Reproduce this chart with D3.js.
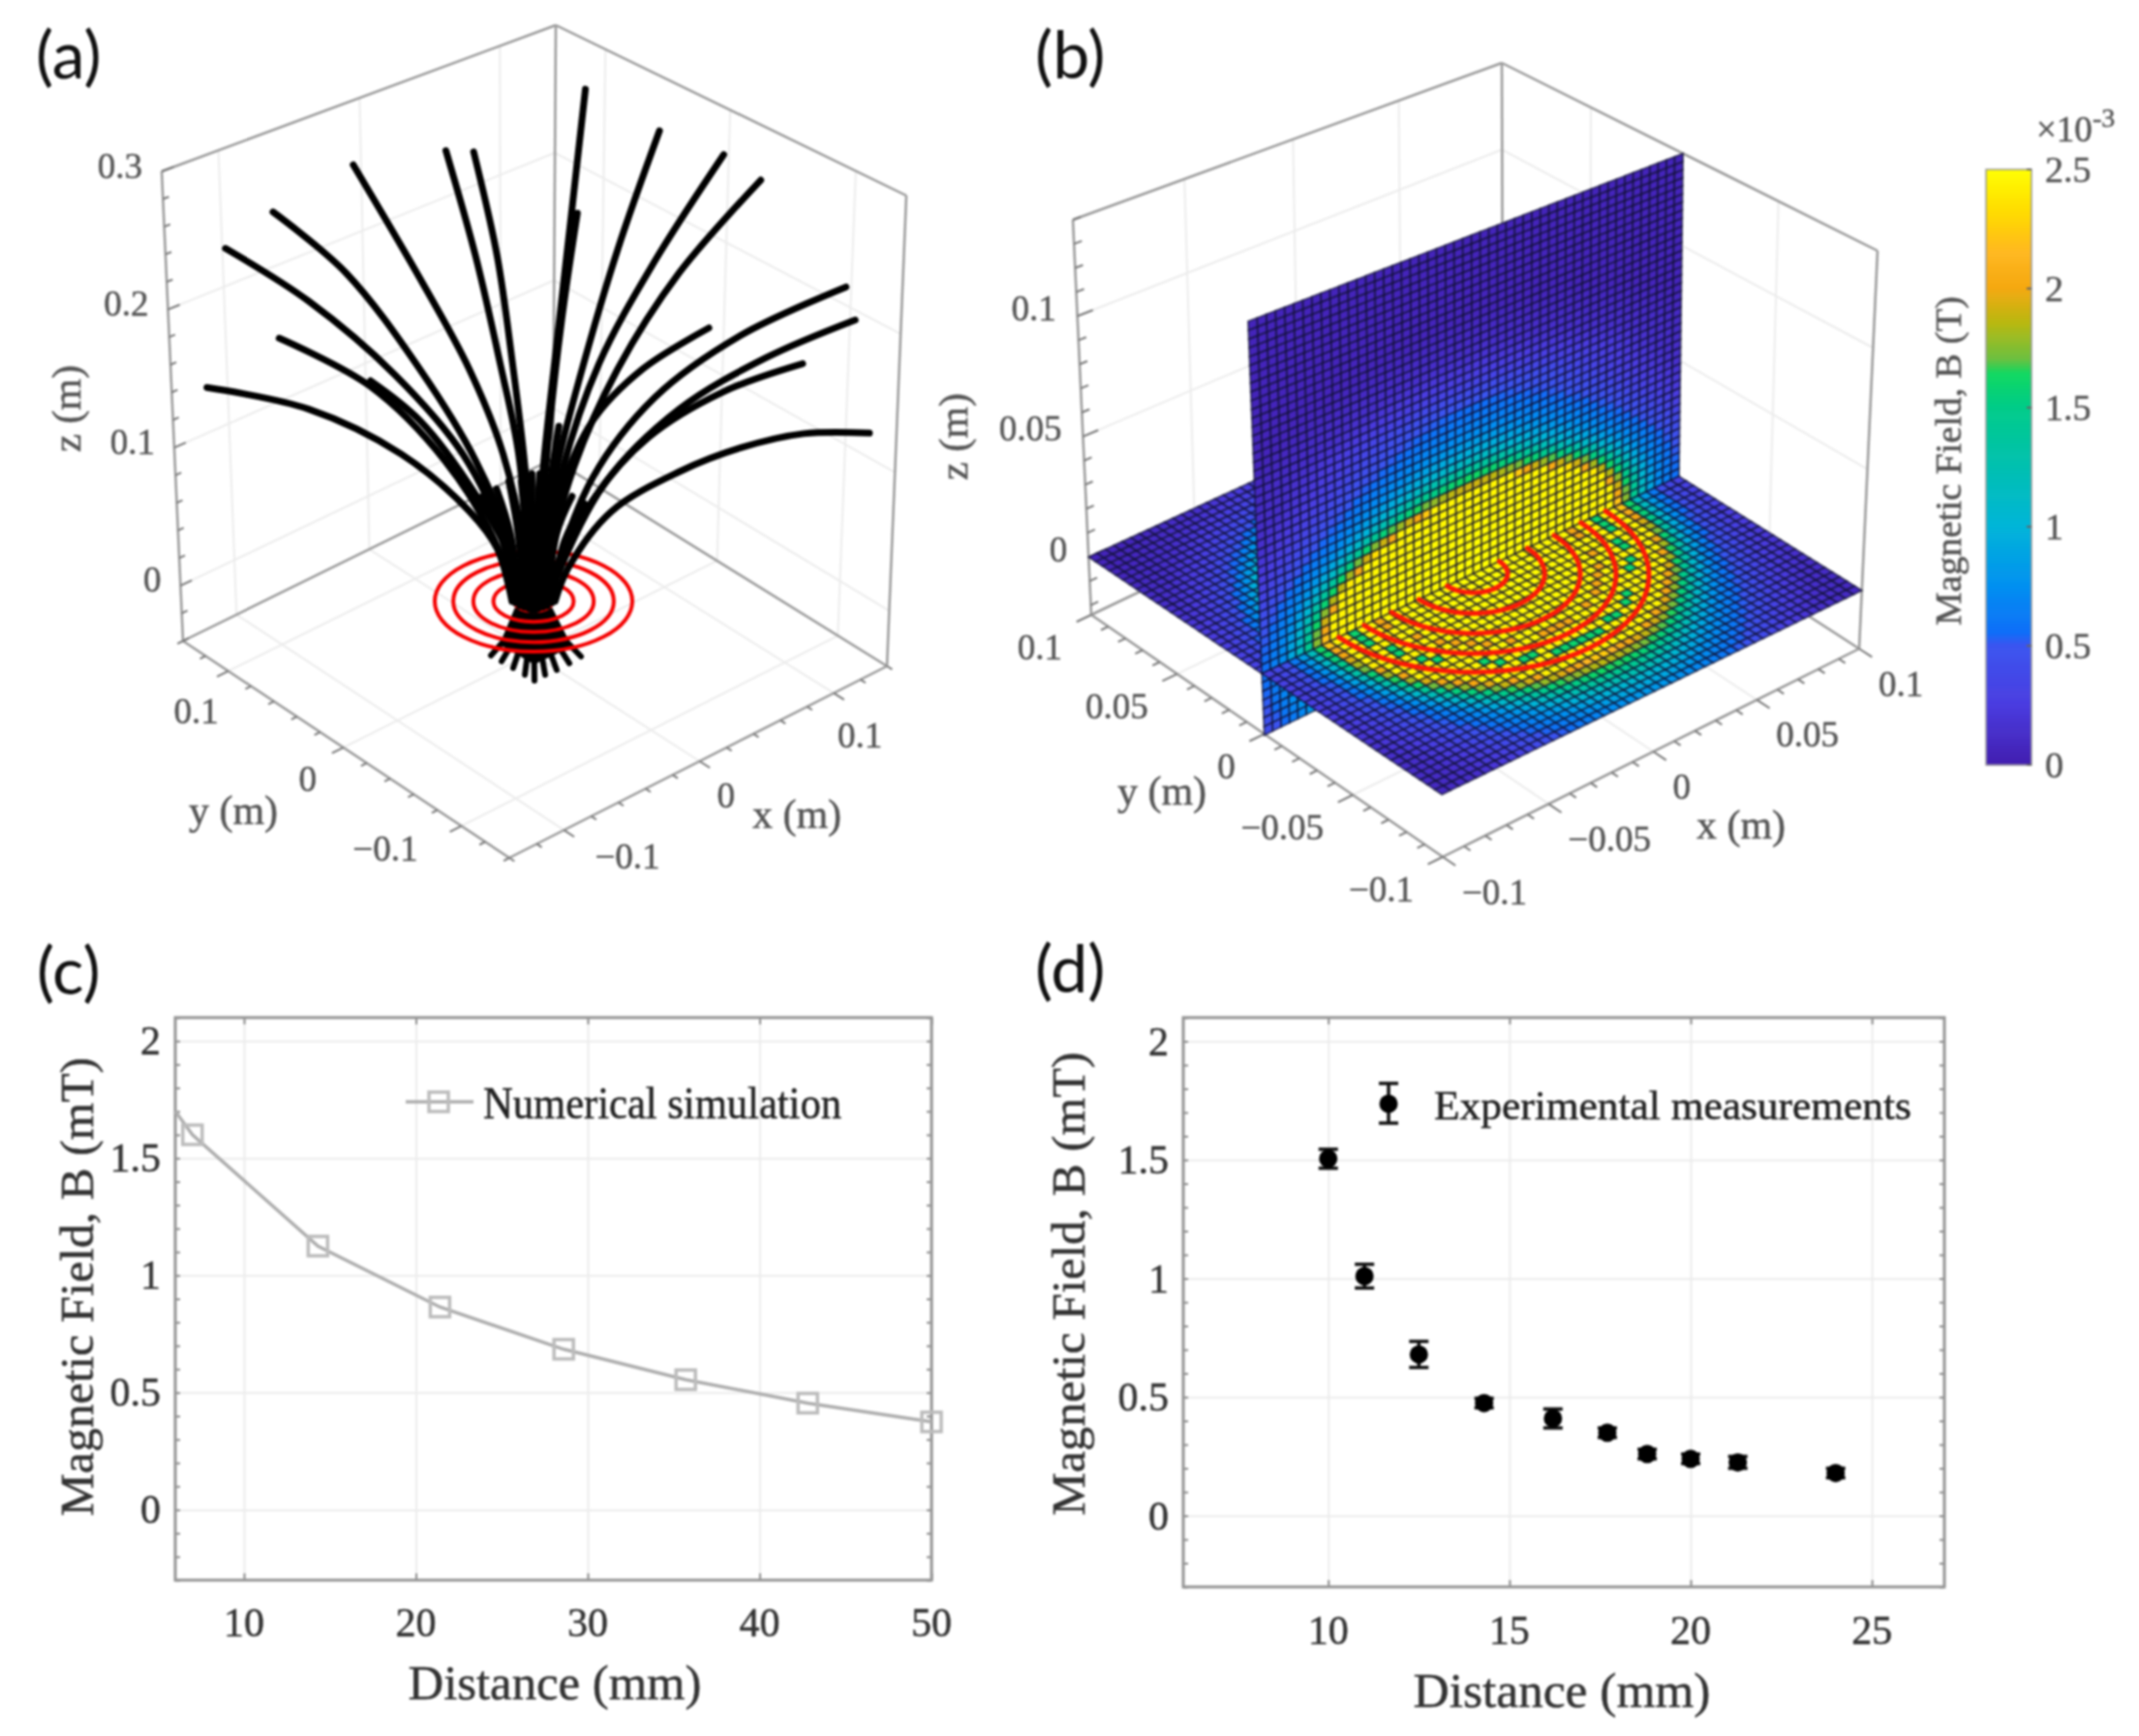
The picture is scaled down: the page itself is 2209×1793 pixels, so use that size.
<!DOCTYPE html>
<html>
<head>
<meta charset="utf-8">
<style>
	html, body { margin: 0; padding: 0; background: #fff; }
	svg { display: block; filter: blur(1.1px); }
	text { font-family: "Liberation Serif", serif; }
</style>
<script src="https://cdn.jsdelivr.net/npm/d3@7"></script>
</head>
<body>
<div id="chart"></div>
<script>
// panel (c) numerical simulation, mm and mT
let simDistance = [6, 7, 14.3, 21.4, 28.6, 35.7, 42.8, 50]
let simField = [1.7, 1.6, 1.125, 0.865, 0.685, 0.555, 0.455, 0.375]
let simMarkers = [7, 14.3, 21.4, 28.6, 35.7, 42.8, 50]

// panel (d) measurements
let expDistance = [10, 11, 12.5, 14.3, 16.2, 17.7, 18.8, 20, 21.3, 24]
let expField = [1.505, 1.01, 0.68, 0.475, 0.41, 0.35, 0.26, 0.24, 0.225, 0.18]
let expError = [0.04, 0.05, 0.055, 0.02, 0.04, 0.02, 0.02, 0.02, 0.025, 0.02]

// coil radii (m), shared by (a) and (b)
let coilRadii = [0.0125, 0.026, 0.039, 0.052, 0.064]

// panel (a) field lines: [offset from coil centre, height] in m
let fieldLines = [
	[[-.2116, .1424], [-.1456, .128], [-.0856, .098], [-.0416, .06], [-.0235, .035], [-.014, 0]],
	[[-.1648, .1753], [-.1056, .1431], [-.0576, .0939], [-.0256, .0409], [-.012, 0]],
	[[-.1996, .2351], [-.1456, .1999], [-.0896, .1507], [-.0456, .0977], [-.0176, .0371], [-.011, 0]],
	[[-.1688, .2594], [-.1216, .2189], [-.0736, .1545], [-.0376, .0939], [-.0136, .0333], [-.009, 0]],
	[[-.1168, .2908], [-.0736, .2151], [-.0416, .1545], [-.0196, .0977], [-.0056, .0295], [-.006, 0]],
	[[-.0568, .3003], [-.0376, .2302], [-.0216, .1583], [-.0096, .0977], [-.0036, .022], [-.004, 0]],
	[[-.0388, .2995], [-.0236, .2302], [-.0136, .1583], [-.0056, .0901], [-.0008, .022], [-.002, 0]],
	[[.0336, .3412], [.0244, .2567], [.0144, .1658], [.0064, .0901], [.0016, .022], [.001, 0]],
	[[.0284, .2586], [.0184, .1886], [.0104, .1166], [.0032, .022], [.002, 0]],
	[[.0816, .3135], [.0544, .234], [.0304, .1507], [.0144, .0863], [.0044, .022], [.004, 0]],
	[[.1232, .2976], [.0784, .2264], [.0424, .1583], [.0184, .0863], [.0064, .022], [.006, 0]],
	[[.1472, .2806], [.0944, .2189], [.0544, .1545], [.0264, .0901], [.0084, .022], [.007, 0]],
	[[.2024, .2094], [.1344, .1772], [.0784, .1356], [.0384, .0825], [.0124, .0144], [.009, 0]],
	[[.2084, .1874], [.1504, .1621], [.0944, .128], [.0464, .0788], [.0144, .0144], [.01, 0]],
	[[.1136, .1821], [.0704, .1545], [.0384, .1204], [.0184, .075], [.0064, .0144], [.006, 0]],
	[[.1744, .1583], [.1224, .1393], [.0744, .1091], [.0384, .0674], [.0124, .0106], [.011, 0]],
	[[.2176, .1121], [.175, .1117], [.1344, .1023], [.0944, .0863], [.0504, .0598], [.0224, .022], [.014, 0]],
	[[-.1056, .1469], [-.0736, .1204], [-.0376, .0712], [-.0136, .0257], [-.01, 0]],
	[[.0164, .1166], [.0084, .0598], [.003, 0]],
	// the dense trunk above the coil
	[[-.033, .07], [-.02, .04], [-.012, -.001]],
	[[-.024, .075], [-.015, .045], [-.009, -.003]],
	[[-.016, .08], [-.01, .045], [-.006, -.004]],
	[[-.008, .08], [-.005, .045], [-.003, -.005]],
	[[-.001, .085], [-.001, .045], [-.001, -.006]],
	[[.004, .085], [.002, .045], [.001, -.006]],
	[[.01, .08], [.006, .045], [.003, -.005]],
	[[.017, .08], [.01, .045], [.006, -.004]],
	[[.025, .07], [.015, .045], [.009, -.003]],
	[[.033, .065], [.02, .04], [.012, -.001]]
]
// the short stubs under the coil
let stubTips = [[-.0276, -.0361], [-.0207, -.04], [-.0132, -.0445], [-.0056, -.049], [.0006, -.0529], [.0075, -.049], [.015, -.0458], [.0232, -.0413], [.0307, -.0368]]

// panel (b) field (mT) against distance from the coil axis
let fieldDistance = [0, .0695, .0705, .075, .08, .09, .1, .112, .125, .144, .17]
let fieldStrength = [2.5, 2.45, 2.05, 1.8, 1.55, 1.05, .75, .52, .32, .14, .05]
// thin weaker bands between the outer windings
let gapRadii = [.0455, .058]
let gapField = [2, 1.6]

// colorbar stops
let colorValues = [0, .25, .5, .55, .75, 1, 1.25, 1.5, 1.64, 1.7, 1.85, 2, 2.15, 2.3, 2.5]
let colorStops = ['#421eb0', '#4a3ce0', '#3a55f0', '#0f6ef8', '#0090f0', '#00b5d8', '#00c0b0', '#00cc88', '#10d860', '#6cc040', '#b8b810', '#f5a810', '#ffb820', '#ffd800', '#ffff00']
let colorbarTicks = [0, .5, 1, 1.5, 2, 2.5]

let lightGrid = '#ececec'
let edgeGray = '#9a9a9a'
let labelGray = '#555'
let darkText = '#333'

let svg = d3.select('#chart').append('svg').attr('width', 2209).attr('height', 1793)
svg.append('rect').attr('width', 2209).attr('height', 1793).attr('fill', '#fff')

let fieldColor = d3.scaleLinear().domain(colorValues).range(colorStops).clamp(true)
let fieldAt = d3.scaleLinear().domain(fieldDistance).range(fieldStrength).clamp(true)

let addText = (g, str, x, y, size, fill, anchor) => g.append('text')
	.attr('x', x).attr('y', y)
	.attr('font-size', size)
	.attr('fill', fill)
	.attr('stroke', fill)
	.attr('stroke-width', .5)
	.attr('text-anchor', anchor || 'middle')
	.attr('dominant-baseline', 'central')
	.text(str)

let fmt = v => String(v).replace('-', '\u2212')

// unit square to quadrilateral
let quadMap = ([p0, p1, p3, p2]) => {
	let dx1 = p1[0] - p2[0], dx2 = p3[0] - p2[0], sx = p0[0] - p1[0] + p2[0] - p3[0]
	let dy1 = p1[1] - p2[1], dy2 = p3[1] - p2[1], sy = p0[1] - p1[1] + p2[1] - p3[1]
	let den = dx1 * dy2 - dx2 * dy1
	let g = (sx * dy2 - dx2 * sy) / den
	let h = (dx1 * sy - sx * dy1) / den
	let a = p1[0] - p0[0] + g * p1[0], b = p3[0] - p0[0] + h * p3[0]
	let d = p1[1] - p0[1] + g * p1[1], e = p3[1] - p0[1] + h * p3[1]
	return (u, v) => {
		let w = g * u + h * v + 1
		return [(a * u + b * v + p0[0]) / w, (d * u + e * v + p0[1]) / w]
	}
}

let makeBox = o => {
	let bottom = quadMap(o.bottom), top = quadMap(o.top)
	let sx = d3.scaleLinear().domain(o.x).range([0, 1])
	let sy = d3.scaleLinear().domain(o.y).range([0, 1])
	let sz = d3.scaleLinear().domain(o.z).range([0, 1])
	return (x, y, z) => {
		let p = bottom(sx(x), sy(y)), q = top(sx(x), sy(y)), t = sz(z)
		return [p[0] + (q[0] - p[0]) * t, p[1] + (q[1] - p[1]) * t]
	}
}

let line3d = (g, project, a, b, color, width) => {
	let p = project(...a), q = project(...b)
	g.append('line')
		.attr('x1', p[0]).attr('y1', p[1]).attr('x2', q[0]).attr('y2', q[1])
		.attr('stroke', color).attr('stroke-width', width)
}

// walls, floor grid, edges and ticks of a 3-D axes box
let drawBox = (g, project, o) => {
	let [x0, x1] = o.x, [y0, y1] = o.y, [z0, z1] = o.z
	o.xTicks.forEach(x => {
		line3d(g, project, [x, y0, z0], [x, y1, z0], lightGrid, 2)
		line3d(g, project, [x, y1, z0], [x, y1, z1], lightGrid, 2)
	})
	o.yTicks.forEach(y => {
		line3d(g, project, [x0, y, z0], [x1, y, z0], lightGrid, 2)
		line3d(g, project, [x1, y, z0], [x1, y, z1], lightGrid, 2)
	})
	o.zTicks.forEach(z => {
		line3d(g, project, [x0, y1, z], [x1, y1, z], lightGrid, 2)
		line3d(g, project, [x1, y0, z], [x1, y1, z], lightGrid, 2)
	})
	let edges = [
		[[x0, y0, z0], [x1, y0, z0]], [[x0, y0, z0], [x0, y1, z0]],
		[[x1, y1, z0], [x0, y1, z0]], [[x1, y1, z0], [x1, y0, z0]],
		[[x0, y1, z0], [x0, y1, z1]], [[x1, y0, z0], [x1, y0, z1]], [[x1, y1, z0], [x1, y1, z1]],
		[[x0, y1, z1], [x1, y1, z1]], [[x1, y0, z1], [x1, y1, z1]]
	]
	edges.forEach(e => line3d(g, project, e[0], e[1], edgeGray, 2.5))

	let tickLen = (x1 - x0) * o.tickFrac
	let isMajor = (v, list) => list.some(t => Math.abs(t - v) < 1e-6)
	o.xMinor.forEach(x => {
		let l = tickLen * (isMajor(x, o.xTicks) ? 1 : .5)
		line3d(g, project, [x, y0, z0], [x, y0 - l, z0], '#777', 2)
	})
	o.yMinor.forEach(y => {
		let l = tickLen * (isMajor(y, o.yTicks) ? 1 : .5)
		line3d(g, project, [x0, y, z0], [x0 - l, y, z0], '#777', 2)
	})
	o.zMinor.forEach(z => {
		let l = tickLen * (isMajor(z, o.zTicks) ? 1 : .5)
		line3d(g, project, [x0, y1, z], [x0 + l, y1, z], '#777', 2)
	})

	o.xTicks.forEach(x => {
		let p = project(x, y0, z0)
		addText(g, fmt(x), p[0] + o.xOffset[0](x), p[1] + o.xOffset[1](x), o.fontSize, labelGray, 'start')
	})
	o.yTicks.forEach(y => {
		let p = project(x0, y, z0)
		addText(g, fmt(y), p[0] + o.yOffset[0](y), p[1] + o.yOffset[1](y), o.fontSize, labelGray, 'end')
	})
	o.zTicks.forEach(z => {
		let p = project(x0, y1, z)
		addText(g, fmt(z), p[0] + o.zOffset[0], p[1] + o.zOffset[1], o.fontSize, labelGray, 'end')
	})
}

// ---------- panel (a) ----------
let aBox = {
	bottom: [[526, 886], [916, 688], [189, 662], [571, 474]],
	top: [[528, 356], [936, 202], [167, 177], [574, 26]],
	x: [-.14, .14], y: [-.14, .14], z: [-.04, .3],
	xTicks: [-.1, 0, .1], yTicks: [-.1, 0, .1], zTicks: [0, .1, .2, .3],
	xMinor: d3.range(-.14, .141, .02), yMinor: d3.range(-.14, .141, .02), zMinor: d3.range(-.04, .301, .02),
	tickFrac: .03, fontSize: 37,
	xOffset: [d3.scaleLinear([-.1, .1], [32, 4]), d3.scaleLinear([-.1, .1], [27, 44])],
	yOffset: [d3.scaleLinear([-.1, .1], [-45, -10]), d3.scaleLinear([-.1, .1], [23, 41])],
	zOffset: [-20, -6]
}
let aProject = makeBox(aBox)
let aG = svg.append('g')
drawBox(aG, aProject, aBox)
addText(aG, 'x (m)', 823, 841, 42, labelGray)
addText(aG, 'y (m)', 241, 837, 42, labelGray)
addText(aG, 'z (m)', 69, 422, 42, labelGray).attr('transform', 'rotate(-90 69 422)')

// field lines are drawn in the view plane of the coil
let viewX = d3.scaleLinear().domain([-.25, .25]).range([551 - 398.5, 551 + 398.5])
let viewZ = d3.scaleLinear().domain([0, .4]).range([621, 1])
let fieldLine = d3.line().x(d => viewX(d[0])).y(d => viewZ(d[1])).curve(d3.curveCatmullRom.alpha(.5))

let neck = [viewX(0), viewZ(-.004)]
aG.append('polygon')
	.attr('points', [[-.012, -.004], ...stubTips.map(d => [d[0] * .8, d[1] * .8]), [.012, -.004]]
		.map(d => [viewX(d[0]), viewZ(d[1])].join(',')).join(' '))
	.attr('fill', '#000')
stubTips.forEach(d => {
	aG.append('line')
		.attr('x1', neck[0]).attr('y1', neck[1]).attr('x2', viewX(d[0])).attr('y2', viewZ(d[1]))
		.attr('stroke', '#000').attr('stroke-width', 6).attr('stroke-linecap', 'round')
})
coilRadii.forEach(r => {
	aG.append('ellipse')
		.attr('cx', viewX(0)).attr('cy', viewZ(0))
		.attr('rx', viewX(r) - viewX(0))
		.attr('ry', (viewX(r) - viewX(0)) * .51)
		.attr('fill', 'none').attr('stroke', '#f40000').attr('stroke-width', 4)
})
aG.selectAll('path.field').data(fieldLines).enter().append('path')
	.attr('class', 'field')
	.attr('d', fieldLine)
	.attr('fill', 'none').attr('stroke', '#000').attr('stroke-width', 7).attr('stroke-linecap', 'round')

// ---------- panel (b) ----------
let bBox = {
	bottom: [[1490, 885], [1920, 670], [1127, 635], [1552, 432]],
	top: [[1484, 445], [1939, 259], [1108, 227], [1551, 65]],
	x: [-.1, .1], y: [-.1, .1], z: [-.024, .14],
	xTicks: [-.1, -.05, 0, .05, .1], yTicks: [-.1, -.05, 0, .05, .1], zTicks: [0, .05, .1],
	xMinor: d3.range(-.1, .101, .01), yMinor: d3.range(-.1, .101, .01), zMinor: d3.range(-.02, .141, .01),
	tickFrac: .035, fontSize: 37,
	xOffset: [() => 20, () => 36], yOffset: [() => -30, () => 33], zOffset: [-22, -8]
}
let bProject = makeBox(bBox)
let bG = svg.append('g')
drawBox(bG, bProject, bBox)
addText(bG, 'x (m)', 1798, 852, 42, labelGray)
addText(bG, 'y (m)', 1200, 817, 42, labelGray)
addText(bG, 'z (m)', 985, 451, 42, labelGray).attr('transform', 'rotate(-90 985 451)')

// the field falls off quicker along x and behind the wall than in front of it
let outerStretch = d3.scaleLinear().domain([.07, .09]).range([1, 1.3]).clamp(true)
let wallOuter = d3.scaleLinear().domain([.07, .09]).range([1, 1.12]).clamp(true)
let wallStretch = d3.scaleLinear().domain([.036, .071]).range([2, 1.58]).clamp(true)
let wallField = (x, z) => {
	let zz = wallStretch(Math.abs(z)) * z
	return fieldAt(Math.hypot(x * wallOuter(Math.hypot(x, zz)), zz))
}
let floorField = (x, y) => {
	let r = Math.hypot(x, y)
	let s = outerStretch(r)
	if (y < 0) {
		let hit = gapRadii.findIndex(g => Math.abs(r - g) < .0012)
		if (hit >= 0) return gapField[hit]
	}
	return fieldAt(Math.hypot(x * s, y < 0 ? y : y * s))
}

let cell = (g, corners, value) => {
	g.append('polygon')
		.attr('points', corners.map(p => p.join(',')).join(' '))
		.attr('fill', fieldColor(value))
		.attr('stroke', '#101030').attr('stroke-opacity', .7).attr('stroke-width', 1.8)
}
let step = .004
let zStep = .0035
let columns = d3.range(-.1, .0999, step)

let drawFloor = (g, yFrom, yTo) => {
	d3.range(yFrom, yTo - 1e-6, step).forEach(y => {
		columns.forEach(x => {
			cell(g, [bProject(x, y, 0), bProject(x + step, y, 0), bProject(x + step, y + step, 0), bProject(x, y + step, 0)], floorField(x + step / 2, y + step / 2))
		})
	})
}
let drawWall = (g, zFrom, zTo) => {
	d3.range(zFrom, zTo - 1e-6, zStep).forEach(z => {
		columns.forEach(x => {
			cell(g, [bProject(x, 0, z), bProject(x + step, 0, z), bProject(x + step, 0, z + zStep), bProject(x, 0, z + zStep)], wallField(x + step / 2, z + zStep / 2))
		})
	})
}
let surf = bG.append('g')
drawWall(surf, -.0245, 0)
drawFloor(surf, 0, .1)
drawWall(surf, 0, .14)
drawFloor(surf, -.1, 0)

let ringLine = d3.line().curve(d3.curveLinear)
coilRadii.forEach(r => {
	let pts = d3.range(-180, 0.1, 5).map(t => bProject(r * Math.cos(t * Math.PI / 180), r * Math.sin(t * Math.PI / 180), 0))
	bG.append('path').attr('d', ringLine(pts))
		.attr('fill', 'none').attr('stroke', '#fb1a08').attr('stroke-width', 5).attr('stroke-linecap', 'round')
})

// colorbar
let barX = 2051, barW = 47
let barY = d3.scaleLinear().domain([0, 2.5]).range([790, 175])
d3.range(0, 2.5, .0125).forEach(v => {
	bG.append('rect')
		.attr('x', barX).attr('width', barW)
		.attr('y', barY(v + .0125)).attr('height', barY(v) - barY(v + .0125) + .6)
		.attr('fill', fieldColor(v))
})
bG.append('rect').attr('x', barX).attr('y', barY(2.5)).attr('width', barW).attr('height', barY(0) - barY(2.5))
	.attr('fill', 'none').attr('stroke', '#999').attr('stroke-width', 1.5)
colorbarTicks.forEach(v => {
	bG.append('line').attr('x1', barX + barW - 5).attr('x2', barX + barW).attr('y1', barY(v)).attr('y2', barY(v)).attr('stroke', '#666').attr('stroke-width', 2)
	addText(bG, String(v), 2112, barY(v), 38, labelGray, 'start')
})
let expo = addText(bG, '\u00d710', 2103, 133, 37, labelGray, 'start')
expo.append('tspan').attr('dy', -12).attr('font-size', 28).text('-3')
addText(bG, 'Magnetic Field, B (T)', 2012, 476, 38, labelGray)
	.attr('transform', 'rotate(-90 2012 476)').attr('textLength', 340).attr('lengthAdjust', 'spacingAndGlyphs')

// ---------- panels (c) and (d) ----------
let yMinorTicks = d3.range(-.3, 2.101, .1)

let drawPanel = o => {
	let g = svg.append('g')
	let x = d3.scaleLinear().domain(o.xDomain).range(o.xRange)
	let y = d3.scaleLinear().domain([-.3, 2.1]).range(o.yRange)
	let h = o.yRange[0] - o.yRange[1], w = o.xRange[1] - o.xRange[0]

	let gridX = g.append('g').attr('transform', `translate(0,${o.yRange[0]})`)
		.call(d3.axisBottom(x).tickValues(o.xTicks).tickSize(-h).tickFormat(''))
	let gridY = g.append('g').attr('transform', `translate(${o.xRange[0]},0)`)
		.call(d3.axisLeft(y).tickValues(o.yTicks).tickSize(-w).tickFormat(''))
	;[gridX, gridY].forEach(a => {
		a.select('.domain').remove()
		a.selectAll('line').attr('stroke', lightGrid).attr('stroke-width', 2)
	})

	// short ticks on all four sides
	let side = (axis, tx, ty) => {
		let a = g.append('g').attr('transform', `translate(${tx},${ty})`).call(axis)
		a.select('.domain').remove()
		a.selectAll('line').attr('stroke', '#8a8a8a').attr('stroke-width', 2)
		return a
	}
	side(d3.axisLeft(y).tickValues(yMinorTicks).tickSize(-5).tickFormat(''), o.xRange[0], 0)
	side(d3.axisRight(y).tickValues(yMinorTicks).tickSize(-5).tickFormat(''), o.xRange[1], 0)
	side(d3.axisTop(x).tickValues(o.xTicks).tickSize(-7).tickFormat(''), 0, o.yRange[1])
	side(d3.axisBottom(x).tickValues(o.xTicks).tickSize(-7).tickFormat(''), 0, o.yRange[0])

	g.append('rect')
		.attr('x', o.xRange[0]).attr('y', o.yRange[1]).attr('width', w).attr('height', h)
		.attr('fill', 'none').attr('stroke', '#949494').attr('stroke-width', 3)

	o.xTicks.forEach(v => addText(g, String(v), x(v), o.xLabelY, 42, darkText))
	o.yTicks.forEach(v => addText(g, String(v), o.yLabelX, y(v), 42, darkText, 'end'))

	addText(g, 'Distance (mm)', o.xTitle[0], o.xTitle[1], 50, darkText)
		.attr('textLength', o.xTitle[2]).attr('lengthAdjust', 'spacingAndGlyphs')
	addText(g, 'Magnetic Field, B (mT)', o.yTitle[0], o.yTitle[1], 49, darkText)
		.attr('transform', `rotate(-90 ${o.yTitle[0]} ${o.yTitle[1]})`)
		.attr('textLength', o.yTitle[2]).attr('lengthAdjust', 'spacingAndGlyphs')
	return { g, x, y }
}

let c = drawPanel({
	xDomain: [6, 50], xRange: [181, 962], yRange: [1632, 1051],
	xTicks: [10, 20, 30, 40, 50], yTicks: [0, .5, 1, 1.5, 2],
	xLabelY: 1676, yLabelX: 166,
	xTitle: [573, 1738, 303], yTitle: [79, 1329, 474]
})
c.g.append('path')
	.datum(d3.zip(simDistance, simField))
	.attr('d', d3.line().x(d => c.x(d[0])).y(d => c.y(d[1])))
	.attr('fill', 'none').attr('stroke', '#aeaeae').attr('stroke-width', 3.5)
let simSquare = (g, px, py) => g.append('rect')
	.attr('x', px - 10).attr('y', py - 10).attr('width', 20).attr('height', 20)
	.attr('fill', 'none').attr('stroke', '#bcbcbc').attr('stroke-width', 3.5)
simMarkers.forEach(v => simSquare(c.g, c.x(v), c.y(simField[simDistance.indexOf(v)])))
c.g.append('line').attr('x1', 419).attr('x2', 489).attr('y1', 1138).attr('y2', 1138)
	.attr('stroke', '#aeaeae').attr('stroke-width', 3.5)
simSquare(c.g, 453, 1138)
addText(c.g, 'Numerical simulation', 499, 1139, 46, '#222', 'start')
	.attr('textLength', 370).attr('lengthAdjust', 'spacingAndGlyphs')

let d = drawPanel({
	xDomain: [6, 27], xRange: [1222, 2008], yRange: [1639, 1051],
	xTicks: [10, 15, 20, 25], yTicks: [0, .5, 1, 1.5, 2],
	xLabelY: 1684, yLabelX: 1207,
	xTitle: [1613, 1746, 307], yTitle: [1103, 1326, 479]
})
let errorBar = (g, px, top, bottom) => {
	g.append('line').attr('x1', px).attr('x2', px).attr('y1', top).attr('y2', bottom).attr('stroke', '#111').attr('stroke-width', 3.5)
	;[top, bottom].forEach(v => g.append('line').attr('x1', px - 10).attr('x2', px + 10).attr('y1', v).attr('y2', v).attr('stroke', '#111').attr('stroke-width', 3.5))
}
expDistance.forEach((v, i) => {
	errorBar(d.g, d.x(v), d.y(expField[i] + expError[i]), d.y(expField[i] - expError[i]))
	d.g.append('circle').attr('cx', d.x(v)).attr('cy', d.y(expField[i])).attr('r', 9.5).attr('fill', '#000')
})
errorBar(d.g, 1434, 1119, 1160)
d.g.append('circle').attr('cx', 1434).attr('cy', 1140).attr('r', 9.5).attr('fill', '#000')
addText(d.g, 'Experimental measurements', 1481, 1141, 43, '#222', 'start')
	.attr('textLength', 493).attr('lengthAdjust', 'spacingAndGlyphs')

// panel letters
let letters = svg.append('g')
let letterText = (t, x, y) => addText(letters, t, x, y, 68, '#111', 'start').style('font-family', 'Lato, sans-serif').attr('stroke-width', 0)
letterText('(a)', 37, 54)
letterText('(b)', 1069, 54)
letterText('(c)', 38, 1000)
letterText('(d)', 1069, 998)
</script>
</body>
</html>
